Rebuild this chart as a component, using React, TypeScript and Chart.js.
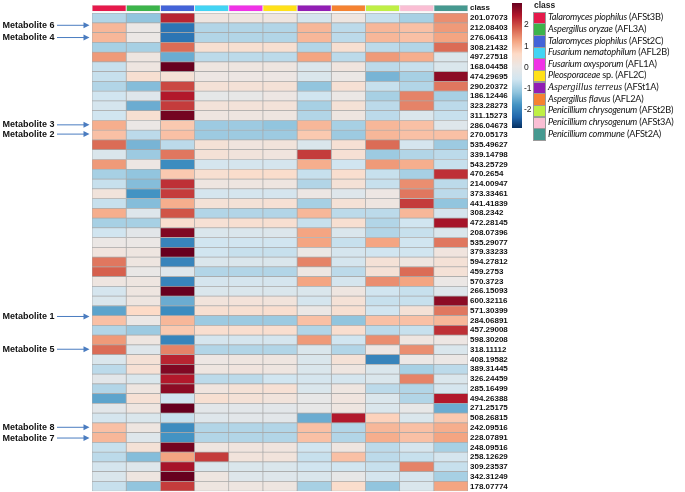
import React, { useEffect, useRef } from "react";
import { Chart, registerables } from "chart.js";

Chart.register(...registerables);

// ---------------- data ----------------
const metabolites = [
  "201.07073", "212.08403", "276.06413", "308.21432", "497.27518", "168.04458", "474.29695", "290.20372", "186.12446", "323.28273",
  "311.15273", "286.04673", "270.05173", "535.49627", "339.14798", "543.25729", "470.2654", "214.00947", "373.33461", "441.41839",
  "308.2342", "472.28145", "208.07396", "535.29077", "379.33233", "594.27812", "459.2753", "570.3723", "266.15093", "600.32116",
  "571.30399", "284.06891", "457.29008", "598.30208", "318.11112", "408.19582", "389.31445", "326.24459", "285.16499", "494.26388",
  "271.25175", "508.26815", "242.09516", "228.07891", "248.09516", "258.12629", "309.23537", "342.31249", "178.07774",
];

const speciesNames = [
  "Talaromyces piophilus", "Aspergillus oryzae", "Talaromyces piophilus", "Fusarium nematophilum",
  "Fusarium oxysporum", "Pleosporaceae", "Aspergillus terreus", "Aspergillus flavus",
  "Penicillium chrysogenum", "Penicillium chrysogenum", "Penicillium commune",
];
const strainCodes = [
  "(AFSt3B)", "(AFL3A)", "(AFSt2C)", "(AFL2B)", "(AFL1A)", "sp. (AFL2C)", "(AFSt1A)", "(AFL2A)", "(AFSt2B)", "(AFSt3A)", "(AFSt2A)",
];
const classColors = [
  "#e6194b", "#3cb44b", "#4363d8", "#42d4f4", "#f032e6", "#ffe119", "#911eb4", "#f58231", "#bfef45", "#fabed4", "#469990",
];

const AFSt3B = [
  -0.9, 1.0, 1.0, -1.0, 1.3, -0.7, -0.7, -0.9, -0.6, -0.5,
  -0.6, 1.1, 0.9, 1.7, -0.4, 1.3, -1.0, -0.7, 0.2, -0.7,
  1.1, -1.0, -0.6, 0.0, 0.15, 1.6, 1.8, 0.1, -0.5, -0.4,
  -1.6, 0.9, -0.9, 1.3, 1.7, -0.4, -0.8, -0.2, -0.9, -1.6,
  -0.2, -0.5, 0.9, 1.0, -0.7, -0.8, -0.5, -0.4, -0.7,
];
const AFL3A = [
  -1.2, 0.0, 0.0, -1.0, 0.1, 0.1, 0.4, -1.3, -0.3, -1.5,
  0.4, 0.0, -0.8, -1.4, -1.1, 0.05, -1.2, -1.3, -1.8, -1.3,
  -0.3, -1.0, -0.2, 0.0, 0.1, 0.1, -0.05, 0.1, 0.1, 0.1,
  0.6, 0.0, -1.1, 0.1, -0.3, 0.3, 0.35, -0.4, 0.1, 0.35,
  0.1, -0.4, 0.1, -0.3, 0.3, -1.3, -0.3, 0.1, -1.2,
];
const AFSt2C = [
  2.3, -2.2, -2.2, 1.7, -1.5, 3.0, 0.3, 2.0, 2.4, 2.1,
  2.9, 0.8, 0.9, -0.8, 1.6, -1.9, 0.8, 2.2, 2.1, 1.1,
  1.9, 0.45, 2.8, -2.0, 3.0, -2.0, -0.3, -2.0, 3.0, -1.5,
  -1.9, 1.0, 0.8, -2.0, 1.5, 2.3, 2.8, 2.4, 2.7, -0.6,
  3.0, -0.7, -1.9, -1.8, 2.9, 1.2, 2.5, 3.0, 2.1,
];
const AFL2B = [
  0.1, -0.9, -0.9, 0.4, -0.8, 0.1, 0.05, 0.3, -0.15, 0.25,
  0.1, -1.1, -1.1, 0.3, 0.3, -0.5, 0.4, 0.1, -0.5, 0.3,
  -0.9, 0.35, -0.4, -0.6, -0.6, -0.4, -0.9, -0.5, -0.4, 0.2,
  0.4, -1.1, 0.45, -0.5, -0.9, 0.05, 0.1, -0.8, 0.15, 0.4,
  -0.2, -0.3, -0.9, -0.9, 0.1, 2.1, -0.4, 0.1, 0.1,
];
const AFL1A = [
  0.1, -0.9, -0.9, 0.4, -0.8, 0.1, 0.05, 0.3, -0.1, 0.25,
  0.1, -1.1, -1.1, 0.15, 0.2, -0.5, 0.5, 0.1, -0.5, 0.3,
  -0.9, 0.4, -0.4, -0.6, -0.7, -0.4, -0.9, -0.5, -0.4, 0.25,
  0.4, -1.1, 0.45, -0.5, -0.9, 0.1, 0.15, -0.8, 0.3, 0.3,
  -0.2, -0.2, -0.9, -0.9, 0.15, 0.2, -0.4, -0.3, 0.1,
];
const AFL2C = [
  0.1, -0.9, -0.9, 0.4, -0.8, 0.1, 0.05, 0.3, 0.05, 0.25,
  0.1, -1.2, -1.1, 0.2, 0.15, -0.5, 0.5, 0.1, -0.5, 0.35,
  -0.9, 0.4, -0.35, -0.6, -0.7, -0.4, -0.9, -0.5, -0.4, 0.2,
  0.45, -1.1, 0.45, -0.5, -0.9, 0.1, 0.1, -0.6, 0.35, 0.2,
  -0.2, -0.2, -0.9, -0.9, 0.15, 0.2, -0.4, -0.3, 0.1,
];
const AFSt1A = [
  -0.5, 1.0, 1.0, -0.9, 1.2, -0.4, -0.4, -1.2, -0.6, -1.0,
  -0.9, 1.0, 0.8, -0.4, 2.1, 1.1, -0.7, -0.9, 0.05, -1.0,
  1.0, -0.7, 1.2, 1.2, 0.0, 1.5, 0.05, 1.2, -0.4, -0.5,
  0.0, 0.9, -0.9, 1.3, -0.4, -0.4, -0.4, -0.5, -0.4, -0.1,
  -0.1, -1.5, 0.9, 0.9, -0.6, -0.7, -0.6, -0.4, -1.0,
];
const AFL2A = [
  0.1, -0.8, -0.8, 0.4, -0.8, 0.15, 0.0, 0.35, 0.0, 0.3,
  0.1, -1.0, -1.1, 0.35, 0.35, -0.6, 0.45, 0.3, -0.3, 0.3,
  -0.8, 0.4, -0.4, -0.7, -0.5, -0.5, -0.8, -0.5, 0.1, 0.3,
  0.4, -1.2, 0.45, -0.6, -0.9, 0.3, 0.1, -0.5, 0.1, 0.15,
  0.1, 2.4, -0.9, -0.9, 0.1, 0.9, -0.6, -0.1, 0.5,
];
const AFSt2B = [
  -0.7, 1.0, 1.0, -0.8, 1.3, -0.8, -1.4, -0.7, -1.0, -0.8,
  -0.8, 1.0, 1.0, 1.7, -1.1, 1.3, -0.7, -0.7, 0.05, 0.1,
  -0.8, -0.9, -0.9, 1.2, -0.6, 0.3, 0.3, 1.4, -0.6, -0.7,
  -0.6, 0.9, -0.8, 1.4, 0.05, -2.0, -0.4, -0.4, -0.8, -0.4,
  -0.4, 0.7, 1.0, 1.1, -0.8, -0.8, -0.7, -0.5, -1.2,
];
const AFSt3A = [
  -1.0, 0.9, 0.9, -0.9, 1.1, -0.7, -1.0, -0.9, 1.5, 1.5,
  -0.4, 0.9, 0.9, -0.5, -0.9, 1.1, -1.0, 1.4, 1.6, 2.1,
  1.0, -0.6, -0.7, -0.6, -0.6, 0.1, 1.7, 1.2, -0.7, -0.7,
  0.3, 0.9, -0.7, 0.1, 1.4, 0.0, -1.0, 1.5, -0.9, -0.9,
  -0.1, -0.4, 0.9, 0.9, -0.5, -0.7, 1.5, -0.5, -0.4,
];
const AFSt2A = [
  1.4, 1.3, 1.2, 1.7, -0.4, -0.4, 2.7, 1.6, -1.0, -0.8,
  -0.7, -0.3, 0.9, -1.1, -0.8, -0.7, 2.2, -0.8, -0.8, -1.2,
  -0.5, 2.5, -0.4, 1.6, 0.15, 0.3, 0.3, 0.0, -0.3, 2.7,
  1.6, 1.0, 2.2, 0.05, -0.4, 0.0, -0.8, -0.4, -0.5, 2.4,
  -1.5, 0.8, 1.1, 1.2, -1.0, -0.5, -0.7, -1.0, 1.2,
];

const columns = [AFSt3B, AFL3A, AFSt2C, AFL2B, AFL1A, AFL2C, AFSt1A, AFL2A, AFSt2B, AFSt3A, AFSt2A];

const colorbarTicks = [2, 1, 0, -1, -2];

const annotations = [
  { label: "Metabolite 6", row: "212.08403", dy: -2.5 },
  { label: "Metabolite 4", row: "276.06413", dy: 0 },
  { label: "Metabolite 3", row: "286.04673", dy: -0.5 },
  { label: "Metabolite 2", row: "270.05173", dy: -1 },
  { label: "Metabolite 1", row: "284.06891", dy: -4 },
  { label: "Metabolite 5", row: "318.11112", dy: -0.5 },
  { label: "Metabolite 8", row: "242.09516", dy: -0.5 },
  { label: "Metabolite 7", row: "228.07891", dy: 0.5 },
];

// ---------------- colour map (RdBu reversed) ----------------
const STOPS: [number, string][] = [
  [-3, "#053061"], [-2.4, "#2166ac"], [-1.8, "#4393c3"], [-1.2, "#92c5de"], [-0.6, "#d1e5f0"],
  [0, "#ebe7e5"], [0.6, "#fddbc7"], [1.2, "#f4a582"], [1.8, "#d6604d"], [2.4, "#b2182b"], [3, "#67001f"],
];
const hex = (h: string) => [1, 3, 5].map((i) => parseInt(h.slice(i, i + 2), 16));
function heatColor(v: number): string {
  const x = Math.max(-3, Math.min(3, v));
  for (let i = 0; i < STOPS.length - 1; i++) {
    const [a, ca] = STOPS[i];
    const [b, cb] = STOPS[i + 1];
    if (x >= a && x <= b) {
      const t = (x - a) / (b - a);
      const A = hex(ca), B = hex(cb);
      const c = A.map((q, k) => Math.round(q + (B[k] - q) * t));
      return `rgb(${c[0]},${c[1]},${c[2]})`;
    }
  }
  return STOPS[STOPS.length - 1][1];
}

const CB_TOP = 3.3;
const CB_H = 124.7;
const CB_MAX = 3.0;
const CB_MIN = -2.9;

export default function App() {
  const ref = useRef<HTMLCanvasElement>(null);

  useEffect(() => {
    if (!ref.current) return;
    const labels = ["class", ...metabolites];

    const heatSets = columns.map((vals, j) => ({
      label: strainCodes[j],
      data: [null, ...vals.map(() => 1)],
      backgroundColor: ["rgba(0,0,0,0)", ...vals.map((v) => heatColor(v))],
      borderColor: "#a9a9a9",
      borderWidth: 0.7,
      borderSkipped: false,
      barPercentage: 1,
      categoryPercentage: 1,
      stack: "s",
    }));
    const classSets = classColors.map((c, j) => ({
      label: "class " + strainCodes[j],
      data: [1, ...metabolites.map(() => null)],
      backgroundColor: c,
      borderColor: "#d4d4d4",
      borderWidth: 0.5,
      borderSkipped: false,
      barPercentage: 0.68,
      categoryPercentage: 1,
      stack: "s",
    }));

    const arrowPlugin = {
      id: "metaboliteArrows",
      afterDraw(chart: any) {
        const ctx = chart.ctx;
        const ys = chart.scales.y;
        ctx.save();
        for (const a of annotations) {
          const idx = labels.indexOf(a.row);
          const y = ys.getPixelForValue(idx) + a.dy;
          ctx.font = "bold 9px 'Liberation Sans', Arial, sans-serif";
          ctx.fillStyle = "#111";
          ctx.textBaseline = "middle";
          ctx.textAlign = "left";
          ctx.fillText(a.label, 2.5, y);
          ctx.strokeStyle = "#4a7cc0";
          ctx.fillStyle = "#4a7cc0";
          ctx.lineWidth = 1;
          ctx.beginPath();
          ctx.moveTo(57, y);
          ctx.lineTo(85, y);
          ctx.stroke();
          ctx.beginPath();
          ctx.moveTo(89.5, y);
          ctx.lineTo(83.5, y - 3);
          ctx.lineTo(83.5, y + 3);
          ctx.closePath();
          ctx.fill();
        }
        ctx.restore();
      },
    };

    const chart = new Chart(ref.current, {
      type: "bar",
      data: { labels, datasets: [...heatSets, ...classSets] as any },
      options: {
        animation: false,
        responsive: true,
        maintainAspectRatio: false,
        indexAxis: "y",
        layout: { padding: { left: 92, right: 155, top: 3.4, bottom: 0.8 } },
        plugins: { legend: { display: false }, tooltip: { enabled: false } },
        scales: {
          x: { stacked: true, min: 0, max: 11, display: false },
          y: {
            type: "category",
            position: "right",
            stacked: true,
            grid: { display: false, drawTicks: false },
            border: { display: false },
            ticks: {
              autoSkip: false,
              padding: 2,
              color: "#111",
              font: { family: "'Liberation Sans', Arial, sans-serif", size: 8, weight: "bold" },
            },
            afterFit(scale: any) {
              scale.width = 62;
              scale.paddingTop = 0;
              scale.paddingBottom = 0;
            },
          },
        },
      } as any,
      plugins: [arrowPlugin],
    });
    return () => chart.destroy();
  }, []);

  const gradient = `linear-gradient(to bottom, ${STOPS.slice()
    .reverse()
    .map(([v, c]) => `${c} ${(((CB_MAX - Math.max(CB_MIN, Math.min(CB_MAX, v))) / (CB_MAX - CB_MIN)) * 100).toFixed(1)}%`)
    .join(", ")})`;

  return (
    <div style={{ position: "absolute", left: 0, top: 0, width: 685, height: 492, background: "#fff", overflow: "hidden" }}>
      <canvas ref={ref} />
      <div
        style={{
          position: "absolute",
          left: 511.5,
          top: CB_TOP,
          width: 10.5,
          height: CB_H,
          background: gradient,
        }}
      />
      {colorbarTicks.map((t) => (
        <div
          key={t}
          style={{
            position: "absolute",
            left: 524,
            top: CB_TOP + ((CB_MAX - t) / (CB_MAX - CB_MIN)) * CB_H - 6,
            height: 12,
            lineHeight: "12px",
            fontFamily: "'Liberation Sans', Arial, sans-serif",
            fontSize: 8.5,
            color: "#222",
          }}
        >
          {t}
        </div>
      ))}
      <div
        style={{
          position: "absolute",
          left: 534,
          top: 0,
          height: 11,
          lineHeight: "11px",
          fontFamily: "'Liberation Sans', Arial, sans-serif",
          fontWeight: "bold",
          fontSize: 8.5,
          color: "#222",
        }}
      >
        class
      </div>
      {speciesNames.map((s, i) => (
        <div key={i} style={{ position: "absolute", left: 533, top: 11.7 + i * 11.65, height: 11.65, whiteSpace: "nowrap" }}>
          <div
            style={{
              position: "absolute",
              left: 0,
              top: 0,
              width: 11,
              height: 10.5,
              background: classColors[i],
              border: "0.5px solid #9a9a9a",
            }}
          />
          <div
            style={{
              position: "absolute",
              left: 15,
              top: -0.5,
              lineHeight: "11.65px",
              fontFamily: "Lato, 'Open Sans', sans-serif",
              fontSize: 9.2,
              letterSpacing: -0.2,
              color: "#111",
            }}
          >
            <span
              style={
                s === "Aspergillus terreus"
                  ? { fontStyle: "italic", fontFamily: "'Liberation Serif', serif", fontSize: 9.8, letterSpacing: 0 }
                  : { fontStyle: "italic" }
              }
            >
              {s}
            </span>{" "}
            {strainCodes[i]}
          </div>
        </div>
      ))}
    </div>
  );
}
